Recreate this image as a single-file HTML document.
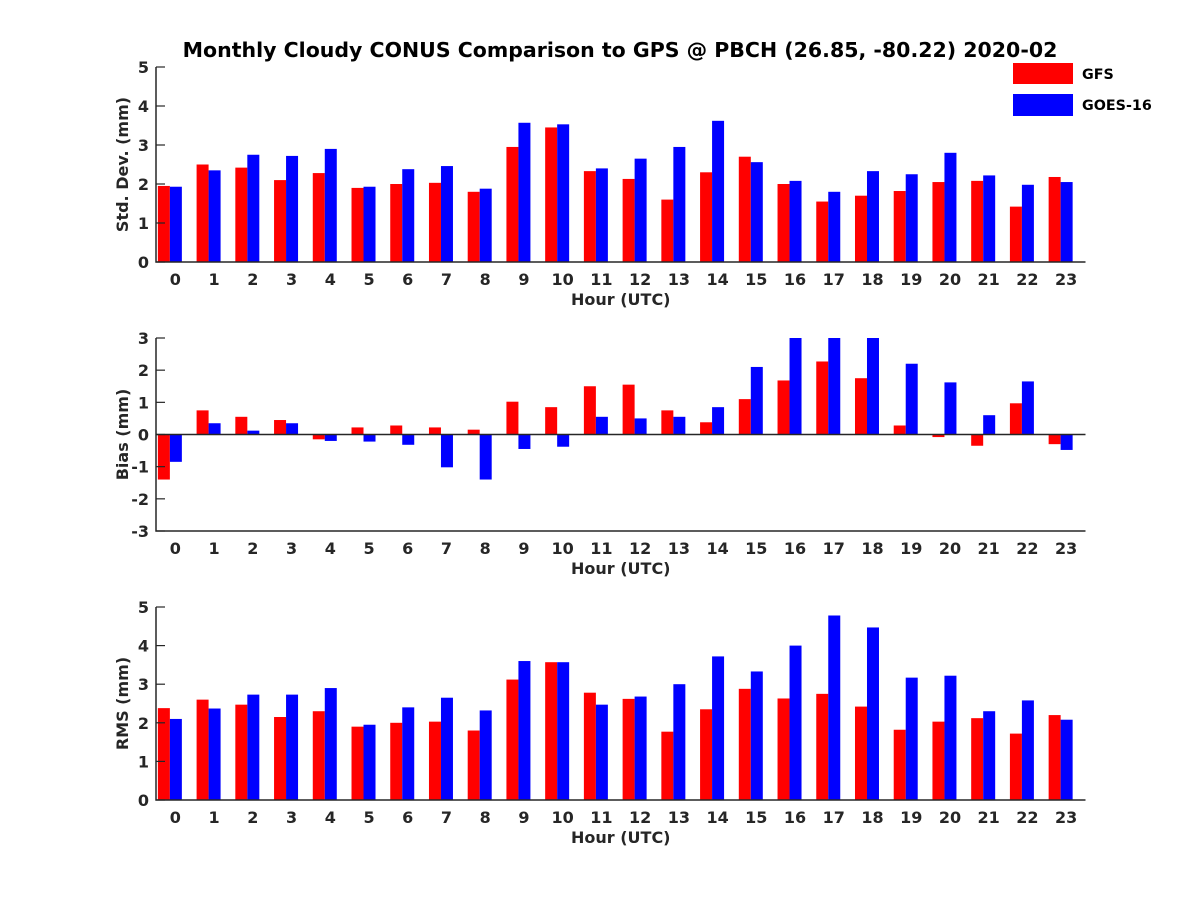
<!DOCTYPE html>
<html><head><meta charset="utf-8"><style>
body{margin:0;background:#fff;}
svg{display:block;font-family:"DejaVu Sans","Liberation Sans",sans-serif;font-weight:bold;}
</style></head><body>
<svg id="chart" width="1200" height="900" viewBox="0 0 1200 900">
<rect width="1200" height="900" fill="#fff"/>
<text x="620" y="57" text-anchor="middle" font-size="20.5" fill="#000">Monthly Cloudy CONUS Comparison to GPS @ PBCH (26.85, -80.22) 2020-02</text>
<g>
<rect x="1013" y="63" width="60" height="21" fill="#ff0000"/>
<text x="1082" y="79" font-size="14.3" fill="#000">GFS</text>
<rect x="1013" y="94" width="60" height="22" fill="#0000ff"/>
<text x="1082" y="110" font-size="14.3" fill="#000">GOES-16</text>
</g>
</svg>
<script>
const hours=[0,1,2,3,4,5,6,7,8,9,10,11,12,13,14,15,16,17,18,19,20,21,22,23];
const stdGFS=[1.95,2.5,2.42,2.1,2.28,1.9,2.0,2.03,1.8,2.95,3.45,2.33,2.13,1.6,2.3,2.7,2.0,1.55,1.7,1.82,2.05,2.08,1.42,2.18];
const stdGOES=[1.93,2.35,2.75,2.72,2.9,1.93,2.38,2.46,1.88,3.57,3.53,2.4,2.65,2.95,3.62,2.56,2.08,1.8,2.33,2.25,2.8,2.22,1.98,2.05];
const biasGFS=[-1.4,0.75,0.55,0.45,-0.15,0.22,0.28,0.22,0.15,1.02,0.85,1.5,1.55,0.75,0.38,1.1,1.68,2.27,1.75,0.28,-0.08,-0.35,0.97,-0.3];
const biasGOES=[-0.85,0.35,0.12,0.35,-0.2,-0.22,-0.32,-1.02,-1.4,-0.45,-0.38,0.55,0.5,0.55,0.85,2.1,3.4,4.4,3.8,2.2,1.62,0.6,1.65,-0.48];
const rmsGFS=[2.38,2.6,2.47,2.15,2.3,1.9,2.0,2.03,1.8,3.12,3.57,2.78,2.62,1.77,2.35,2.88,2.63,2.75,2.42,1.82,2.03,2.12,1.72,2.2];
const rmsGOES=[2.1,2.37,2.73,2.73,2.9,1.95,2.4,2.65,2.32,3.6,3.57,2.47,2.68,3.0,3.72,3.33,4.0,4.78,4.47,3.17,3.22,2.3,2.58,2.08];
const stdTicks=[0,1,2,3,4,5];
const biasTicks=[-3,-2,-1,0,1,2,3];
const rmsTicks=[0,1,2,3,4,5];

const NS="http://www.w3.org/2000/svg";
const svg=document.getElementById('chart');
const INK='#262626';
function mk(tag,attrs,parent){const e=document.createElementNS(NS,tag);for(const k in attrs)e.setAttribute(k,attrs[k]);(parent||svg).appendChild(e);return e;}
const X0=156,X1=1085.5;
function xScale(h){return X0+(h+0.5)*(X1-X0)/24;}
function panel(name,top,bot,ymin,ymax,ticks,a,b,ylabel){
  const g=mk('g',{});
  
  
  const y=v=>bot-(v-ymin)*(bot-top)/(ymax-ymin);
  const clip=mk('clipPath',{id:'clip-'+name},g);
  mk('rect',{x:X0,y:top,width:X1-X0,height:bot-top},clip);
  const bars=mk('g',{'clip-path':'url(#clip-'+name+')'},g);
  const base=y(Math.max(ymin,Math.min(0,ymax)));
  const bw=12;
  hours.forEach((h,i)=>{
    const cx=xScale(h)-5.5;
    [[a[i],'#ff0000',cx-bw,'gfs'],[b[i],'#0000ff',cx,'goes16']].forEach(([v,c,x0,s])=>{
      const yv=y(v);
      const r=mk('rect',{x:x0,y:Math.min(yv,base),width:bw,height:Math.abs(base-yv),fill:c},bars);
      
      
    });
  });
  if(ymin<0){const z=mk('line',{x1:X0,x2:X1,y1:y(0),y2:y(0),stroke:INK,'stroke-width':1.5},g);
    
    }
  const ax=mk('path',{d:`M${X0},${top}V${bot}H${X1}`,fill:'none',stroke:INK,'stroke-width':1.5},g);
  
  
  ticks.forEach(t=>{
    mk('line',{x1:X0,x2:X0+9,y1:y(t),y2:y(t),stroke:INK,'stroke-width':1.2},g);
    const tx=mk('text',{x:X0-7,y:y(t)+6,'text-anchor':'end','font-size':16,fill:INK},g);
    tx.textContent=t;
    
    
  });
  hours.forEach(h=>{
    const tx=mk('text',{x:xScale(h),y:bot+23,'text-anchor':'middle','font-size':16,fill:INK},g);
    tx.textContent=h;
    
    
  });
  const xl=mk('text',{x:(X0+X1)/2,y:bot+43,'text-anchor':'middle','font-size':16,fill:INK},g);
  xl.textContent='Hour (UTC)';
  
  
  const yl=mk('text',{x:0,y:0,'text-anchor':'middle','font-size':16,fill:INK,transform:`translate(${X0-28},${(top+bot)/2}) rotate(-90)`},g);
  yl.textContent=ylabel;
  
  
}
panel('std',67,262,0,5,stdTicks,stdGFS,stdGOES,'Std. Dev. (mm)');
panel('bias',338,531,-3,3,biasTicks,biasGFS,biasGOES,'Bias (mm)');
panel('rms',607,800,0,5,rmsTicks,rmsGFS,rmsGOES,'RMS (mm)');
</script>
</body></html>
